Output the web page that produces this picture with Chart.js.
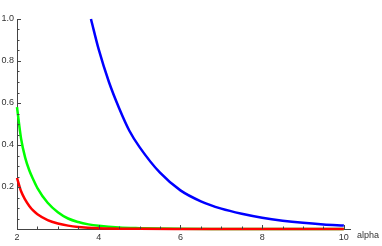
<!DOCTYPE html>
<html>
<head>
<meta charset="utf-8">
<script src="https://cdn.jsdelivr.net/npm/chart.js@4/dist/chart.umd.min.js"></script>
<style>
html,body{margin:0;padding:0;background:#fff;}
#wrap{width:382px;height:246px;position:relative;}
</style>
</head>
<body>
<div id="wrap"><canvas id="c" width="382" height="246"></canvas></div>
<script>
// Data
const blueX = [3.81, 4.0, 4.25, 4.5, 4.75, 5.0, 5.5, 6.0, 6.5, 7.0, 7.5, 8.0, 8.5, 9.0, 9.5, 10.0];
const blueY = [1.0, 0.855, 0.70, 0.575, 0.468, 0.39, 0.268, 0.184, 0.132, 0.097, 0.0726, 0.0538, 0.0398, 0.0295, 0.0219, 0.0162];
const greenX = [2.0, 2.1, 2.2, 2.3, 2.4, 2.5, 2.75, 3.0, 3.25, 3.5, 3.75, 4.0, 4.5, 5.0, 6.0, 7.0, 8.0, 10.0];
const greenY = [0.58, 0.43, 0.34, 0.28, 0.235, 0.195, 0.125, 0.08, 0.05, 0.033, 0.022, 0.015, 0.007, 0.004, 0.001, 0.0003, 0.0001, 0.0];
const redX = [2.0, 2.1, 2.2, 2.3, 2.4, 2.5, 2.75, 3.0, 3.25, 3.5, 4.0, 5.0, 6.0, 8.0, 10.0];
const redY = [0.243, 0.18, 0.14, 0.11, 0.087, 0.07, 0.042, 0.026, 0.016, 0.01, 0.004, 0.0012, 0.0004, 0.0001, 0.0];
const xMajorTicks = [2, 4, 6, 8, 10];
const yMajorTicks = [0.2, 0.4, 0.6, 0.8, 1.0];
const axisLabel = "alpha";

const pts = (xs, ys) => xs.map((x, i) => ({x: x, y: ys[i]}));
const FONT = '"Liberation Sans", Arial, sans-serif';
const AXIS_COLOR = '#444';
const TEXT_COLOR = '#333';

const inwardTicks = {
  id: 'inwardTicks',
  afterDraw(chart) {
    const ctx = chart.ctx;
    const xs = chart.scales.x, ys = chart.scales.y;
    const y0 = ys.getPixelForValue(0);
    const x0 = xs.getPixelForValue(2);
    ctx.save();
    ctx.strokeStyle = AXIS_COLOR;
    ctx.lineWidth = 1;
    ctx.beginPath();
    for (let v = 2; v <= 10.0001; v += 0.5) {
      const px = Math.round(xs.getPixelForValue(v)) + 0.5;
      const major = xMajorTicks.some(m => Math.abs(m - v) < 1e-6);
      const len = major ? 4 : 2.5;
      ctx.moveTo(px, y0);
      ctx.lineTo(px, y0 - len);
    }
    for (let v = 0.05; v <= 1.0001; v += 0.05) {
      const py = Math.round(ys.getPixelForValue(v)) + 0.5;
      const major = yMajorTicks.some(m => Math.abs(m - v) < 1e-6);
      const len = major ? 4 : 2.5;
      ctx.moveTo(x0, py);
      ctx.lineTo(x0 + len, py);
    }
    ctx.stroke();
    ctx.fillStyle = TEXT_COLOR;
    ctx.font = '9px ' + FONT;
    ctx.textBaseline = 'middle';
    ctx.textAlign = 'left';
    ctx.fillText(axisLabel, chart.chartArea.right + 7, y0 + 7);
    ctx.restore();
  }
};

new Chart(document.getElementById('c'), {
  type: 'line',
  data: {
    datasets: [
      {data: pts(redX, redY), borderColor: 'rgb(255,0,0)', borderWidth: 2.5, pointRadius: 0, cubicInterpolationMode: 'monotone', fill: false, clip: false},
      {data: pts(greenX, greenY), borderColor: 'rgb(0,255,0)', borderWidth: 2.5, pointRadius: 0, cubicInterpolationMode: 'monotone', fill: false, clip: false},
      {data: pts(blueX, blueY), borderColor: 'rgb(0,0,255)', borderWidth: 2.5, pointRadius: 0, cubicInterpolationMode: 'monotone', fill: false, clip: false}
    ]
  },
  options: {
    responsive: false,
    animation: false,
    events: [],
    layout: {padding: {top: 19, right: 32, left: 0, bottom: 0}},
    plugins: {legend: {display: false}, tooltip: {enabled: false}},
    scales: {
      x: {
        type: 'linear', min: 2, max: 10.15,
        grid: {display: false, drawTicks: false},
        border: {display: true, color: AXIS_COLOR, width: 1},
        afterFit: s => { s.height = 17; },
        ticks: {
          stepSize: 0.5, autoSkip: false, maxRotation: 0, includeBounds: false, padding: 3,
          color: TEXT_COLOR, font: {family: FONT, size: 9},
          callback: v => xMajorTicks.some(m => Math.abs(m - v) < 1e-6) ? String(Math.round(v)) : ''
        }
      },
      y: {
        type: 'linear', min: 0, max: 1.0,
        grid: {display: false, drawTicks: false},
        border: {display: true, color: AXIS_COLOR, width: 1},
        afterFit: s => { s.width = 17; },
        ticks: {
          stepSize: 0.05, autoSkip: false, padding: 3,
          color: TEXT_COLOR, font: {family: FONT, size: 9},
          callback: v => yMajorTicks.some(m => Math.abs(m - v) < 1e-6) ? v.toFixed(1) : ''
        }
      }
    }
  },
  plugins: [inwardTicks]
});
</script>
</body>
</html>
